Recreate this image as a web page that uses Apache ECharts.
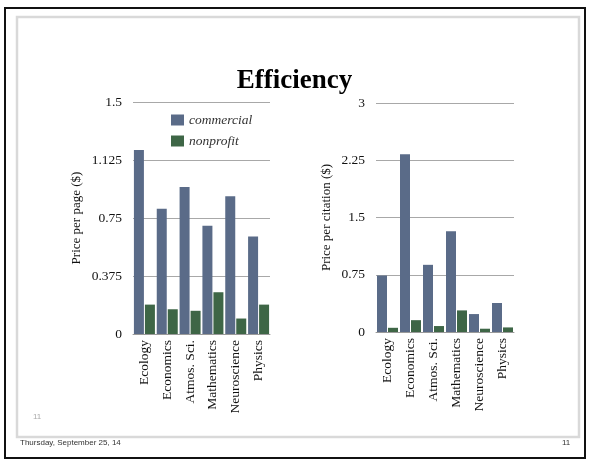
<!DOCTYPE html>
<html>
<head>
<meta charset="utf-8">
<script src="https://cdn.jsdelivr.net/npm/echarts@6/dist/echarts.min.js"></script>
<style>html,body{margin:0;padding:0;background:#fff}#c{width:589px;height:461px}</style>
</head>
<body>
<div id="c"></div>
<script>
const categories = ['Ecology', 'Economics', 'Atmos. Sci.', 'Mathematics', 'Neuroscience', 'Physics'];
const seriesNames = ['commercial', 'nonprofit'];
const pagePriceCommercial = [1.19, 0.81, 0.95, 0.70, 0.89, 0.63];
const pagePriceNonprofit = [0.19, 0.16, 0.15, 0.27, 0.10, 0.19];
const citationPriceCommercial = [0.74, 2.33, 0.88, 1.32, 0.235, 0.38];
const citationPriceNonprofit = [0.055, 0.155, 0.078, 0.283, 0.043, 0.06];
const leftTicks = { min: 0, max: 1.5, interval: 0.375 };
const rightTicks = { min: 0, max: 3, interval: 0.75 };
const titleText = 'Efficiency';
const leftAxisName = 'Price per page ($)';
const rightAxisName = 'Price per citation ($)';
const footerDate = 'Thursday, September 25, 14';
const pageNumber = '11';

const serif = '"Liberation Serif", "DejaVu Serif", serif';
const colCom = '#5a6b88';
const colNon = '#3e6646';

function xAx(gi) {
  return {
    type: 'category', gridIndex: gi, data: categories,
    axisTick: { show: false },
    axisLine: { lineStyle: { color: '#9a9a9a', width: 1 } },
    axisLabel: { rotate: 90, margin: 6, color: '#111', fontFamily: serif, fontSize: 13.5, interval: 0 }
  };
}
function yAx(gi, t, name, gap) {
  return {
    type: 'value', gridIndex: gi, min: t.min, max: t.max, interval: t.interval,
    name: name, nameLocation: 'middle', nameGap: gap,
    nameTextStyle: { color: '#111', fontFamily: serif, fontSize: 13 },
    axisLine: { show: false }, axisTick: { show: false },
    axisLabel: { margin: 11, color: '#111', fontFamily: serif, fontSize: 13.5 },
    splitLine: { lineStyle: { color: '#a8a8a8', width: 1 } }
  };
}
function bar(name, gi, data, color) {
  return {
    type: 'bar', name: name, xAxisIndex: gi, yAxisIndex: gi, data: data,
    barWidth: 10, barGap: '10%', itemStyle: { color: color }, animation: false
  };
}

const chart = echarts.init(document.getElementById('c'), null, { renderer: 'canvas' });
chart.setOption({
  backgroundColor: '#fff',
  animation: false,
  title: {
    text: titleText, left: 'center', top: 63,
    textStyle: { fontFamily: serif, fontWeight: 'bold', fontSize: 27, color: '#000' }
  },
  legend: {
    orient: 'vertical', left: 166, top: 108,
    data: seriesNames, icon: 'rect', itemWidth: 13, itemHeight: 11, itemGap: 7,
    textStyle: { fontFamily: serif, fontStyle: 'italic', fontSize: 13.5, color: '#333' }
  },
  grid: [
    { left: 133, top: 102, width: 137, height: 232 },
    { left: 376, top: 103, width: 138, height: 229 }
  ],
  xAxis: [xAx(0), xAx(1)],
  yAxis: [yAx(0, leftTicks, leftAxisName, 50), yAx(1, rightTicks, rightAxisName, 43)],
  series: [
    bar(seriesNames[0], 0, pagePriceCommercial, colCom),
    bar(seriesNames[1], 0, pagePriceNonprofit, colNon),
    bar(seriesNames[0], 1, citationPriceCommercial, colCom),
    bar(seriesNames[1], 1, citationPriceNonprofit, colNon)
  ],
  color: [colCom, colNon],
  graphic: [
    { type: 'rect', shape: { x: 5, y: 8, width: 580, height: 450 }, style: { fill: null, stroke: '#111', lineWidth: 2 }, silent: true },
    { type: 'rect', shape: { x: 17, y: 17, width: 562, height: 420 }, style: { fill: null, stroke: '#d9d9d9', lineWidth: 2.5 }, silent: true },
    { type: 'text', left: 20, top: 439, style: { text: footerDate, font: '8px "Liberation Sans", Arial, sans-serif', fill: '#333' } },
    { type: 'text', left: 562, top: 439, style: { text: pageNumber, font: '8px "Liberation Sans", Arial, sans-serif', fill: '#333' } },
    { type: 'text', left: 33, top: 413, style: { text: pageNumber, font: '8px "Liberation Sans", Arial, sans-serif', fill: '#aaa' } }
  ]
});
</script>
</body>
</html>
